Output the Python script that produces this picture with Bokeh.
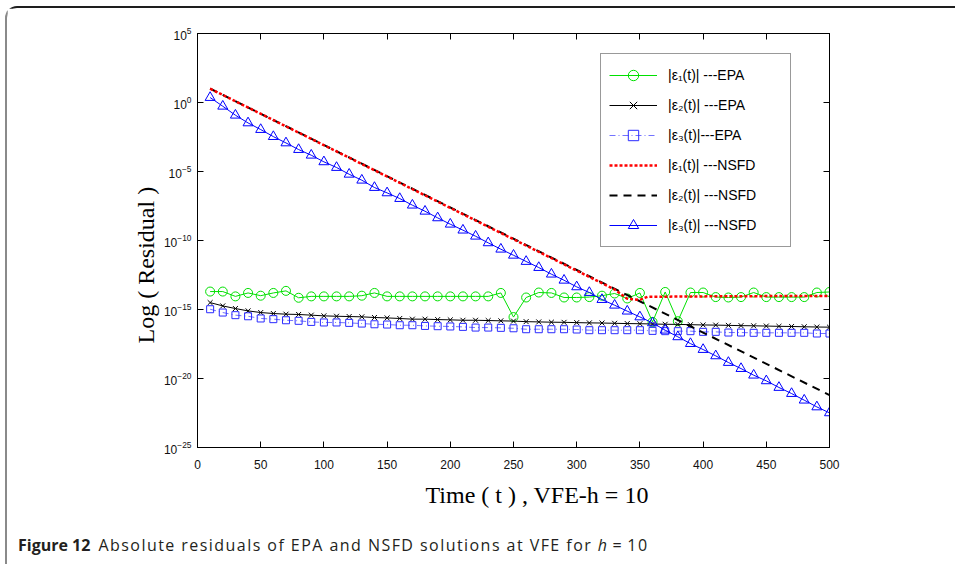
from bokeh.plotting import figure
from bokeh.models import (Legend, LegendItem, LinearAxis, LogAxis, FixedTicker, Range1d,
                          Title, Div, CustomJSTickFormatter)
from bokeh.layouts import column
from bokeh.embed import file_html
from bokeh.resources import INLINE

# ---------------- data (log10 of residuals) ----------------
t = [10, 20, 30, 40, 50, 60, 70, 80, 90, 100,
     110, 120, 130, 140, 150, 160, 170, 180, 190, 200,
     210, 220, 230, 240, 250, 260, 270, 280, 290, 300,
     310, 320, 330, 340, 350, 360, 370, 380, 390, 400,
     410, 420, 430, 440, 450, 460, 470, 480, 490, 500]

eps1_epa = [-13.70, -13.70, -14.05, -13.80, -14.00, -13.80, -13.65, -14.15, -14.05, -14.05,
            -14.05, -14.05, -14.00, -13.80, -14.05, -14.05, -14.05, -14.05, -14.05, -14.05,
            -14.05, -14.05, -14.05, -13.80, -15.55, -14.13, -13.77, -13.80, -14.13, -14.13,
            -14.10, -14.00, -13.84, -14.20, -13.80, -15.90, -13.73, -15.85, -13.77, -13.77,
            -14.10, -14.13, -14.10, -13.77, -14.10, -14.10, -14.10, -14.10, -13.77, -13.73]

eps2_epa = [-14.50, -14.74, -14.93, -15.10, -15.22, -15.29, -15.34, -15.36, -15.41, -15.46,
            -15.49, -15.51, -15.53, -15.58, -15.61, -15.65, -15.70, -15.70, -15.73, -15.75,
            -15.78, -15.78, -15.80, -15.82, -15.84, -15.88, -15.90, -15.92, -15.93, -15.95,
            -15.97, -15.98, -16.00, -16.02, -16.03, -16.05, -16.07, -16.08, -16.10, -16.12,
            -16.13, -16.15, -16.17, -16.18, -16.20, -16.22, -16.23, -16.25, -16.27, -16.28]

eps3_epa = [-14.98, -15.22, -15.41, -15.49, -15.65, -15.70, -15.78, -15.82, -15.90, -15.94,
            -15.94, -15.97, -16.02, -16.07, -16.09, -16.14, -16.14, -16.19, -16.21, -16.23,
            -16.26, -16.31, -16.31, -16.33, -16.36, -16.43, -16.43, -16.43, -16.43, -16.45,
            -16.50, -16.50, -16.50, -16.50, -16.50, -16.55, -16.57, -16.57, -16.57, -16.62,
            -16.62, -16.67, -16.67, -16.69, -16.69, -16.69, -16.69, -16.69, -16.74, -16.74]

eps3_nsfd = [0.36, -0.27, -0.92, -1.48, -1.96, -2.47, -2.93, -3.41, -3.82, -4.30,
             -4.71, -5.20, -5.63, -6.16, -6.55, -6.96, -7.44, -7.88, -8.36, -8.82,
             -9.25, -9.69, -10.17, -10.63, -11.07, -11.52, -11.96, -12.44, -12.88, -13.36,
             -13.77, -14.28, -14.69, -15.12, -15.54, -15.97, -16.50, -16.98, -17.47, -17.90,
             -18.36, -18.84, -19.28, -19.76, -20.17, -20.65, -21.09, -21.57, -22.06, -22.49]

t_nsfd1 = [10, 330, 340, 350, 356, 400, 450, 500]
eps1_nsfd = [1.0, -13.55, -14.22, -14.30, -14.08, -14.05, -14.03, -14.02]

t_nsfd2 = [10, 500]
eps2_nsfd = [1.0, -21.2]

x_ticks = [0, 50, 100, 150, 200, 250, 300, 350, 400, 450, 500]
y_tick_exponents = [-25, -20, -15, -10, -5, 0, 5]

legend_labels = ["|\u03b5\u2081(t)| ---EPA", "|\u03b5\u2082(t)| ---EPA", "|\u03b5\u2083(t)|---EPA",
                 "|\u03b5\u2081(t)| ---NSFD", "|\u03b5\u2082(t)| ---NSFD", "|\u03b5\u2083(t)| ---NSFD"]

x_label = "Time ( t ) , VFE-h = 10"
y_label = "Log ( Residual )"


def pw(vals):
    return [10.0 ** v for v in vals]


y_ticks = [10.0 ** e for e in y_tick_exponents]

GREEN = "#00e000"

p = figure(width=948, height=510, x_range=Range1d(0, 500), y_range=Range1d(1e-25, 1e5),
           y_axis_type="log", output_backend="svg", toolbar_location=None,
           min_border_left=190, min_border_right=126, min_border_top=25, min_border_bottom=71)
p.background_fill_color = "white"
p.border_fill_color = "white"
p.grid.visible = False
p.outline_line_color = "black"
p.outline_line_width = 1

bottom_axis = p.below[0]
left_axis = p.left[0]
top_axis = LinearAxis(formatter=CustomJSTickFormatter(code="return ''"))
right_axis = LogAxis(formatter=CustomJSTickFormatter(code="return ''"))
p.add_layout(top_axis, "above")
p.add_layout(right_axis, "right")

for ax in [bottom_axis, top_axis]:
    ax.ticker = FixedTicker(ticks=x_ticks, minor_ticks=[])
for ax in [left_axis, right_axis]:
    ax.ticker = FixedTicker(ticks=y_ticks, minor_ticks=[])

for ax in [bottom_axis, top_axis, left_axis, right_axis]:
    ax.major_tick_in = 6
    ax.major_tick_out = 0
    ax.minor_tick_line_color = None
    ax.axis_line_color = "black"
    ax.major_tick_line_color = "black"
    ax.major_label_text_font = "Liberation Sans"
    ax.major_label_text_font_size = "12px"
    ax.major_label_text_color = "#111111"

bottom_axis.major_label_standoff = 12
top_axis.major_label_standoff = 0
right_axis.major_label_standoff = 0
left_axis.major_label_standoff = 6

# EPA series
g_line = p.line(t, pw(eps1_epa), line_color=GREEN, line_width=1)
g_mark = p.scatter(t, pw(eps1_epa), marker="circle", size=9, fill_color=None,
                   line_color=GREEN, line_width=1)
k_line = p.line(t, pw(eps2_epa), line_color="black", line_width=1)
k_mark = p.scatter(t, pw(eps2_epa), marker="x", size=7, line_color="black", line_width=1)
b_line = p.line(t, pw(eps3_epa), line_color="#7373ff", line_width=1, line_dash="6 3 1 3")
b_mark = p.scatter(t, pw(eps3_epa), marker="square", size=7, fill_color=None,
                   line_color="#2b2bff", line_width=1)
# NSFD series
kd_line = p.line(t_nsfd2, pw(eps2_nsfd), line_color="black", line_width=2, line_dash="8 6")
r_line = p.line(t_nsfd1, pw(eps1_nsfd), line_color="red", line_width=2.5, line_dash="3 2")
bt_line = p.line(t, pw(eps3_nsfd), line_color="blue", line_width=1)
bt_mark = p.scatter(t, pw(eps3_nsfd), marker="triangle", size=10, fill_color=None,
                    line_color="blue", line_width=1)

items = [
    LegendItem(label=legend_labels[0], renderers=[g_line, g_mark]),
    LegendItem(label=legend_labels[1], renderers=[k_line, k_mark]),
    LegendItem(label=legend_labels[2], renderers=[b_line, b_mark]),
    LegendItem(label=legend_labels[3], renderers=[r_line]),
    LegendItem(label=legend_labels[4], renderers=[kd_line]),
    LegendItem(label=legend_labels[5], renderers=[bt_line, bt_mark]),
]
legend = Legend(items=items, location=(403, 200), glyph_width=48, glyph_height=26,
                label_height=26, spacing=4, padding=8, label_standoff=11, label_width=114,
                label_text_font="Liberation Sans", label_text_font_size="14px",
                label_text_color="black", border_line_color="#333333", border_line_width=1,
                background_fill_color="white", background_fill_alpha=1.0, margin=0)
p.add_layout(legend, "center")

xt = Title(text=x_label, align="left", offset=228, text_font="Liberation Serif",
           text_font_size="24px", text_font_style="normal", text_color="black", standoff=16)
p.add_layout(xt, "below")
yt = Title(text=y_label, align="left", offset=104, text_font="Liberation Serif",
           text_font_size="24px", text_font_style="normal", text_color="black", standoff=4)
p.add_layout(yt, "left")

cap = Div(text='<span style="font-weight:700;font-size:16px">Figure 12</span>&nbsp;&nbsp;'
               '<span style="font-size:16px;letter-spacing:1.45px">Absolute residuals of EPA and '
               'NSFD solutions at VFE for <i>h</i>&#8201;=&#8201;10</span>',
          width=948, height=46,
          styles={"font-family": "'Open Sans'", "font-size": "15.5px", "color": "#231f20",
                  "padding-left": "6px", "padding-top": "11px", "box-sizing": "border-box"})

root = column(p, cap, margin=(6, 0, 0, 5), spacing=0,
              styles={"border-top": "2px solid #1e1e1e", "border-left": "2px solid #8a8a8a",
                      "border-top-left-radius": "12px", "background": "white"})

open("out.html", "w").write(file_html(root, INLINE))
